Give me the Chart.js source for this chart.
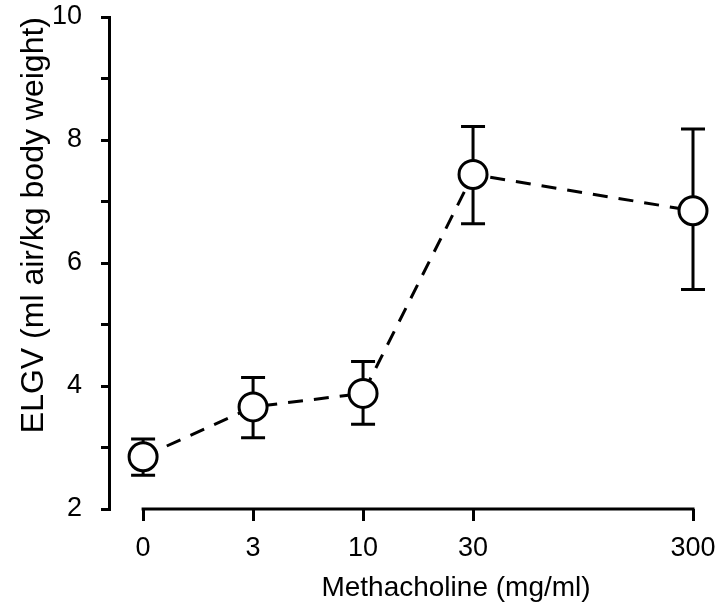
<!DOCTYPE html>
<html>
<head>
<meta charset="utf-8">
<script src="https://cdn.jsdelivr.net/npm/chart.js@4.4.0/dist/chart.umd.min.js"></script>
<style>
  html, body { margin: 0; padding: 0; background: #fff; }
  #wrap { width: 720px; height: 610px; }
</style>
</head>
<body>
<div id="wrap"><canvas id="canvas" width="720" height="610"></canvas></div>
<script>
// dose labels and where they sit on the (uneven) x axis
var doseLabels = ['0', '3', '10', '30', '300'];
var dosePos = [0, 1, 2, 3, 5];

// ELGV mean and error bar ends
var elgvMean = [2.85, 3.66, 3.88, 7.44, 6.85];
var elgvUpper = [3.14, 4.14, 4.40, 8.22, 8.18];
var elgvLower = [2.55, 3.16, 3.38, 6.64, 5.57];

var yMin = 2, yMax = 10;
var xTitle = 'Methacholine (mg/ml)';
var yTitle = 'ELGV (ml air/kg body weight)';

var points = [];
for (let i = 0; i < dosePos.length; i++) {
    points.push({ x: dosePos[i], y: elgvMean[i] });
}

var fontFam = "'Liberation Sans', Arial, sans-serif";

// error bars + the separate x axis line + x title
var errorBars = {
    id: 'errorBars',
    beforeDatasetsDraw: function(chart) {
        var ctx = chart.ctx;
        var xs = chart.scales.x, ys = chart.scales.y;
        ctx.save();
        ctx.strokeStyle = '#000';
        ctx.lineWidth = 3;
        // x axis line only from first to last dose
        ctx.beginPath();
        ctx.moveTo(xs.getPixelForValue(dosePos[0]) - 1.5, chart.chartArea.bottom);
        ctx.lineTo(xs.getPixelForValue(dosePos[dosePos.length - 1]) + 1.5, chart.chartArea.bottom);
        ctx.stroke();
        for (let i = 0; i < dosePos.length; i++) {
            var px = xs.getPixelForValue(dosePos[i]);
            var top = ys.getPixelForValue(elgvUpper[i]);
            var bot = ys.getPixelForValue(elgvLower[i]);
            ctx.beginPath();
            ctx.moveTo(px, top);
            ctx.lineTo(px, bot);
            ctx.moveTo(px - 12, top);
            ctx.lineTo(px + 12, top);
            ctx.moveTo(px - 12, bot);
            ctx.lineTo(px + 12, bot);
            ctx.stroke();
        }
        // x title sits a bit right of centre in the original
        ctx.fillStyle = '#000';
        ctx.font = '28px ' + fontFam;
        ctx.textAlign = 'center';
        ctx.textBaseline = 'middle';
        ctx.fillText(xTitle, 456, 588);
        ctx.restore();
    }
};

const ctx = document.getElementById('canvas').getContext('2d');
const myChart = new Chart(ctx, {
    type: 'scatter',
    data: {
        datasets: [{
            label: 'ELGV',
            data: points,
            showLine: true,
            borderColor: '#000',
            borderWidth: 3,
            borderDash: [15, 11],
            pointRadius: 14,
            pointBorderWidth: 3,
            pointBackgroundColor: '#fff',
            pointBorderColor: '#000',
            tension: 0,
            clip: false
        }]
    },
    options: {
        responsive: false,
        animation: false,
        layout: { padding: { top: 12, right: 27, left: 0, bottom: 0 } },
        plugins: {
            legend: { display: false },
            tooltip: { enabled: false }
        },
        scales: {
            x: {
                type: 'linear',
                min: -0.31,
                max: 5,
                afterBuildTicks: function(scale) {
                    scale.ticks = dosePos.map(function(v) { return { value: v }; });
                },
                afterFit: function(scale) {
                    scale.height = 101;
                    scale.paddingLeft = 0;
                    scale.paddingRight = 0;
                },
                border: { display: false },
                grid: {
                    drawOnChartArea: false,
                    drawTicks: true,
                    tickLength: 12,
                    lineWidth: 3,
                    color: '#000'
                },
                ticks: {
                    color: '#000',
                    padding: 11,
                    maxRotation: 0,
                    font: { family: fontFam, size: 27 },
                    callback: function(value) {
                        var k = dosePos.indexOf(value);
                        return k >= 0 ? doseLabels[k] : '';
                    }
                },
                title: { display: false }
            },
            y: {
                type: 'linear',
                min: yMin,
                max: yMax,
                afterFit: function(scale) {
                    scale.width = 109;
                    scale.paddingTop = 0;
                    scale.paddingBottom = 0;
                },
                border: { display: true, color: '#000', width: 3 },
                grid: {
                    drawOnChartArea: false,
                    drawTicks: true,
                    tickLength: 8,
                    lineWidth: 3,
                    color: '#000'
                },
                ticks: {
                    stepSize: 1,
                    color: '#000',
                    padding: 19,
                    font: { family: fontFam, size: 27 },
                    callback: function(value) {
                        return value % 2 === 0 ? value : '';
                    }
                },
                title: {
                    display: true,
                    text: yTitle,
                    color: '#000',
                    align: 'end',
                    font: { family: fontFam, size: 32 },
                    padding: { top: 15, bottom: 0 }
                }
            }
        }
    },
    plugins: [errorBars]
});
</script>
</body>
</html>
